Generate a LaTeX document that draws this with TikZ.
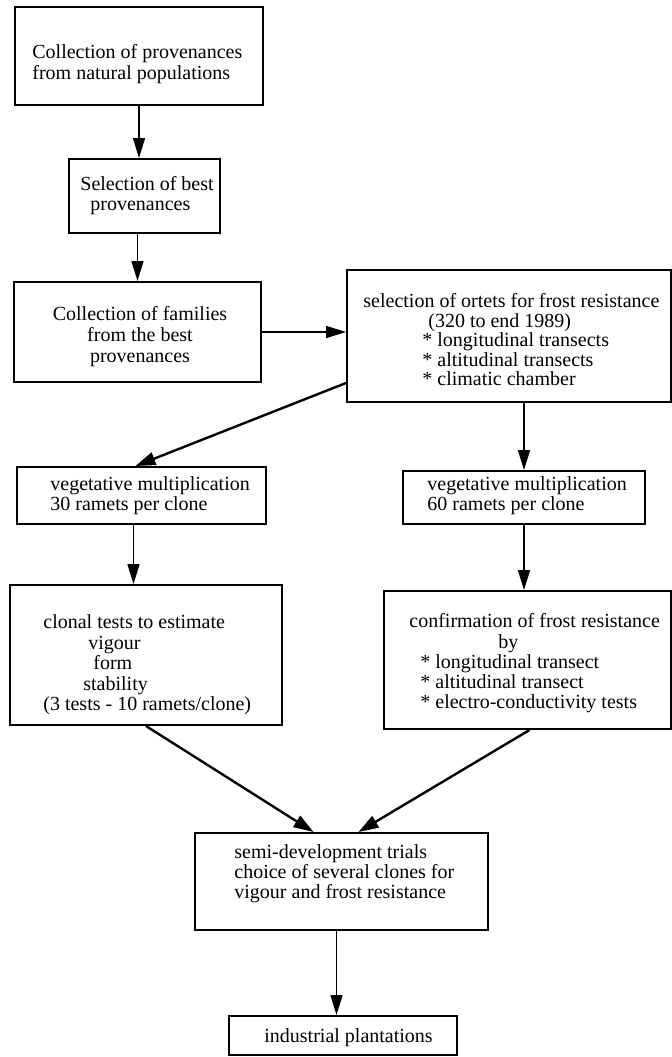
\documentclass[tikz,border=0pt]{standalone}
\usepackage{fontspec}
\setmainfont{Liberation Serif}
\usetikzlibrary{arrows.meta,fit,calc}
\begin{document}
\begin{tikzpicture}[x=0.5pt,y=-0.5pt,
  box/.style={draw,line width=1pt,inner sep=0pt},
  txt/.style={inner sep=0pt,anchor=west,align=left,font=\fontsize{10}{10}\selectfont},
  arr/.style={line width=0.75pt,-{Triangle[length=10pt,width=6pt]}},
  darr/.style={line width=1.2pt,-{Triangle[length=10pt,width=6.5pt]}}]
\useasboundingbox (0,0) rectangle (672,1057);
% boxes
\node[box,fit={(15,7) (263,105)}] (b1) {};
\node[box,fit={(69,159) (220,233)}] (b2) {};
\node[box,fit={(14,282) (261,382)}] (b3) {};
\node[box,fit={(347,270) (671,402)}] (b4) {};
\node[box,fit={(17,467) (266,524)}] (b5) {};
\node[box,fit={(403,471) (645,524)}] (b6) {};
\node[box,fit={(10,585) (282,725)}] (b7) {};
\node[box,fit={(384,591) (671,729)}] (b8) {};
\node[box,fit={(195,833) (488,930)}] (b9) {};
\node[box,fit={(229,1016) (457,1055)}] (b10) {};
% texts
\node[txt,font=\fontsize{10}{10.5}\selectfont] (t1) at (32,64.5) {Collection of provenances\\from natural populations};
\node[txt] (t2) at (80,196) {Selection of best\\\hspace*{5pt}provenances};
\node[txt,anchor=center,align=center,font=\fontsize{10}{10.5}\selectfont] (t3) at (140,337) {Collection of families\\from the best\\provenances};
\node[txt,font=\fontsize{10}{9.75}\selectfont] (t4) at (363,340) {selection of ortets for frost resistance\\\hspace*{32.5pt}(320 to end 1989)\\\hspace*{29.5pt}* longitudinal transects\\\hspace*{29.5pt}* altitudinal transects\\\hspace*{29.5pt}* climatic chamber};
\node[txt] (t5) at (50,496) {vegetative multiplication\\30 ramets per clone};
\node[txt] (t6) at (427,496) {vegetative multiplication\\60 ramets per clone};
\node[txt,font=\fontsize{10}{10.25}\selectfont] (t7) at (43,665) {clonal tests to estimate\\\hspace*{22.5pt}vigour\\\hspace*{25pt}form\\\hspace*{20pt}stability\\(3 tests - 10 ramets/clone)};
\node[txt,font=\fontsize{10}{10.1}\selectfont] (t8) at (409,663.5) {confirmation of frost resistance\\\hspace*{44.5pt}by\\\hspace*{5.5pt}* longitudinal transect\\\hspace*{5.5pt}* altitudinal transect\\\hspace*{5.5pt}* electro-conductivity tests};
\node[txt] (t9) at (234,874) {semi-development trials\\choice of several clones for\\vigour and frost resistance};
\node[txt] (t10) at (264,1038) {industrial plantations};
% connectors
\draw[arr] (b1.south) -- (b1.south |- b2.north);
\draw[arr] (b3.north |- b2.south) -- (b3.north);
\draw[arr] (b3.east) -- (b3.east -| b4.west);
\coordinate (c4s) at ($(b4.south west)+(0,-20)$);
\coordinate (c4e) at ($(b5.north)+(-6,0)$);
\draw[darr] (c4s) -- (c4e);
\draw[arr] (b6.north |- b4.south) -- (b6.north);
\coordinate (c6) at ($(b5.south)+(-8,0)$);
\draw[arr] (c6) -- (c6 |- b7.north);
\draw[arr] (b6.south) -- (b6.south |- b8.north);
\coordinate (c8e) at ($(b9.north)+(-28,0)$);
\draw[darr] (b7.south) -- (c8e);
\coordinate (c9s) at ($(b8.south)+(2,0)$);
\coordinate (c9e) at ($(b9.north)+(17,0)$);
\draw[darr] (c9s) -- (c9e);
\coordinate (c10) at ($(b9.south)+(-5,0)$);
\draw[arr] (c10) -- (c10 |- b10.north);
\end{tikzpicture}
\end{document}
